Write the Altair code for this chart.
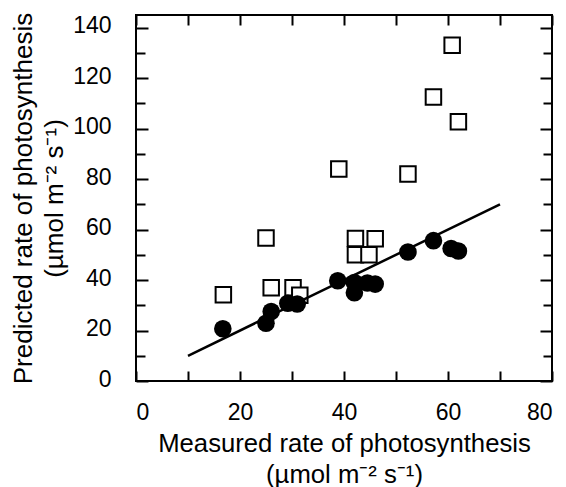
import altair as alt
import pandas as pd

# Measured vs predicted rate of photosynthesis
circle_measured = [16.7, 25.0, 26.0, 29.2, 31.0, 38.8, 42.0, 42.0, 44.5, 46.0, 52.3, 57.2, 60.6, 62.0]
circle_predicted = [20.7, 22.9, 27.5, 30.8, 30.5, 39.7, 35.0, 39.0, 38.8, 38.4, 51.1, 55.6, 52.5, 51.5]

square_measured = [16.8, 25.0, 26.0, 30.2, 31.5, 39.0, 42.2, 46.0, 42.2, 44.8, 52.3, 57.2, 60.8, 62.0]
square_predicted = [34.2, 56.7, 36.9, 36.9, 34.0, 84.0, 56.5, 56.4, 50.0, 50.0, 82.0, 112.5, 133.0, 102.7]

fit_measured = [10, 70]
fit_predicted = [10, 70]

x_ticks = [0, 10, 20, 30, 40, 50, 60, 70, 80]
y_major = [0, 20, 40, 60, 80, 100, 120, 140]
y_minor = [10, 30, 50, 70, 90, 110, 130]

x_title = ["Measured rate of photosynthesis", "(\u00b5mol m\u207b\u00b2 s\u207b\u00b9)"]
y_title = ["Predicted rate of photosynthesis", "(\u00b5mol m\u207b\u00b2 s\u207b\u00b9)"]

circles = pd.DataFrame({"m": circle_measured, "p": circle_predicted})
squares = pd.DataFrame({"m": square_measured, "p": square_predicted})
fit = pd.DataFrame({"m": fit_measured, "p": fit_predicted})

xs = alt.Scale(domain=[0, 80], nice=False, zero=False)
ys = alt.Scale(domain=[0, 145], nice=False, zero=False)

FONT = "Liberation Sans"

x_bottom = alt.Axis(orient="bottom", values=x_ticks, offset=-10, tickSize=10, domain=False,
                    labelExpr="datum.value % 20 == 0 ? datum.label : ''",
                    labelFontSize=23, labelPadding=20, title=x_title, titleFontSize=25.7,
                    titlePadding=7, titleLineHeight=31, grid=False)
x_top = alt.Axis(orient="top", values=x_ticks, offset=-10, tickSize=10, domain=False,
                 labels=False, title=None, grid=False)
y_left_major = alt.Axis(orient="left", values=y_major, offset=-12, tickSize=12, domain=False,
                        labelFontSize=23, labelPadding=25, labelOffset=-2, title=y_title,
                        titleFontSize=26, titlePadding=5, titleLineHeight=31, grid=False)
y_left_minor = alt.Axis(orient="left", values=y_minor, offset=-9, tickSize=9, domain=False,
                        labels=False, title=None, grid=False)
y_right_major = alt.Axis(orient="right", values=y_major, offset=-12, tickSize=12, domain=False,
                         labels=False, title=None, grid=False)
y_right_minor = alt.Axis(orient="right", values=y_minor, offset=-9, tickSize=9, domain=False,
                         labels=False, title=None, grid=False)

sq = alt.Chart(squares).mark_point(shape="square", size=240, filled=True, fill="white",
                                   stroke="black", strokeWidth=2, opacity=1).encode(
    x=alt.X("m:Q", scale=xs, axis=x_bottom),
    y=alt.Y("p:Q", scale=ys, axis=y_left_major),
)
ci = alt.Chart(circles).mark_point(shape="circle", size=310, filled=True, color="black",
                                   opacity=1).encode(
    x=alt.X("m:Q", scale=xs, axis=x_top),
    y=alt.Y("p:Q", scale=ys, axis=y_left_minor),
)
ln = alt.Chart(fit).mark_line(color="black", strokeWidth=2.5).encode(
    x=alt.X("m:Q", scale=xs, axis=None),
    y=alt.Y("p:Q", scale=ys, axis=y_right_major),
)
ghost = alt.Chart(fit).mark_point(opacity=0).encode(
    x=alt.X("m:Q", scale=xs, axis=None),
    y=alt.Y("p:Q", scale=ys, axis=y_right_minor),
)

chart = alt.layer(sq, ci, ln, ghost).resolve_scale(x="shared", y="shared").resolve_axis(
    x="independent", y="independent"
).properties(
    width=416, height=366,
    autosize=alt.AutoSizeParams(type="none"),
    padding={"left": 136, "top": 15, "right": 14, "bottom": 106},
    background="white",
).configure_view(
    stroke="black", strokeWidth=2
).configure_axis(
    labelFont=FONT, titleFont=FONT, labelColor="black", titleColor="black",
    tickColor="black", tickWidth=2, titleFontWeight="normal",
)

chart.save("out.html", embed_options={"renderer": "svg", "actions": False})
